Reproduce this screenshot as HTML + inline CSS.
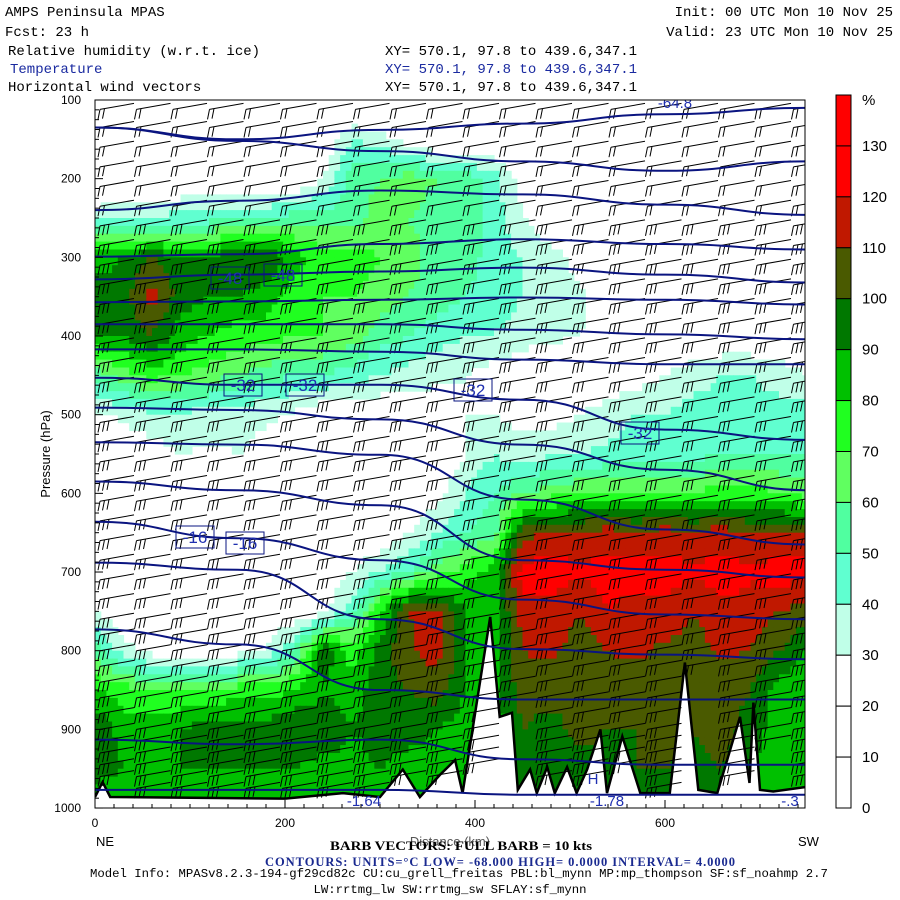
<!DOCTYPE html>
<html><head><meta charset="utf-8">
<style>
html,body{margin:0;padding:0;background:#fff;}
svg{display:block;}
.mono{font-family:"Liberation Mono",monospace;}
.sans{font-family:"Liberation Sans",sans-serif;}
.serif{font-family:"Liberation Serif",serif;}
</style></head>
<body>
<svg id="chart" width="900" height="900" viewBox="0 0 900 900" xmlns="http://www.w3.org/2000/svg">
  <defs><clipPath id="plotclip"><rect x="95" y="100" width="710" height="708"/></clipPath></defs>
  <g class="mono" font-size="14" fill="#000">
    <text x="5" y="16">AMPS Peninsula MPAS</text>
    <text x="5" y="36">Fcst:   23 h</text>
    <text x="893" y="16" text-anchor="end">Init: 00 UTC Mon 10 Nov 25</text>
    <text x="893" y="36" text-anchor="end">Valid: 23 UTC Mon 10 Nov 25</text>
    <text x="8" y="55">Relative humidity (w.r.t. ice)</text>
    <text x="385" y="55">XY= 570.1, 97.8 to 439.6,347.1</text>
    <text x="10" y="73" fill="#1a2aa0">Temperature</text>
    <text x="385" y="73" fill="#1a2aa0">XY= 570.1, 97.8 to 439.6,347.1</text>
    <text x="8" y="91">Horizontal wind vectors</text>
    <text x="385" y="91">XY= 570.1, 97.8 to 439.6,347.1</text>
  </g>
  <g id="plot" clip-path="url(#plotclip)">
    <g id="rh"></g>
    <g id="terrain"></g>
    <g id="barbs"></g>
    <g id="isotherms"></g>
    <g id="clabels"></g>
  </g>
  <rect x="95" y="100" width="710" height="708" fill="none" stroke="#000" stroke-width="1"/>
  <g id="axes"></g>
  <g id="cbar"></g>
  <text transform="translate(50,454) rotate(-90)" text-anchor="middle" class="sans" font-size="13">Pressure (hPa)</text>
  <text x="96" y="846" class="sans" font-size="13">NE</text>
  <text x="798" y="846" class="sans" font-size="13">SW</text>
  <text x="450" y="846" text-anchor="middle" class="sans" font-size="13" fill="#555">Distance (km)</text>
  <text x="330" y="850" textLength="262" lengthAdjust="spacingAndGlyphs" class="serif" font-size="13" font-weight="bold">BARB VECTORS:  FULL BARB = 10 kts</text>
  <text x="265" y="866" textLength="470" lengthAdjust="spacing" class="serif" font-size="12.5" font-weight="bold" fill="#1a2a90">CONTOURS:  UNITS=°C  LOW= -68.000      HIGH=  0.0000      INTERVAL=   4.0000</text>
  <text x="90" y="877" class="mono" font-size="12.3">Model Info: MPASv8.2.3-194-gf29cd82c CU:cu_grell_freitas PBL:bl_mynn MP:mp_thompson SF:sf_noahmp 2.7</text>
  <text x="450" y="893" text-anchor="middle" class="mono" font-size="12.3">LW:rrtmg_lw SW:rrtmg_sw SFLAY:sf_mynn</text>
</svg>
<script>
const distKm = [0,30,60,90,120,150,180,210,240,270,300,330,360,390,420,450,480,510,540,570,600,630,660,690,720,750];
const presLev = [100,150,200,250,300,350,400,450,500,550,600,650,700,750,800,850,900,950,1000];
const rhRow100 = [10,10,10,10,10,10,10,10,10,10,10,10,10,10,10,10,10,10,10,10,10,10,10,10,10,10];
const rhRow150 = [15,15,15,15,15,15,15,15,20,40,35,25,15,15,15,15,15,15,15,15,15,15,15,15,15,15];
const rhRow200 = [15,15,15,15,15,15,15,15,30,55,60,65,60,55,45,25,15,15,15,15,15,15,15,15,15,15];
const rhRow250 = [35,40,40,45,45,50,50,55,55,55,65,60,55,55,45,30,20,20,20,20,20,20,20,20,20,20];
const rhRow300 = [85,90,100,90,90,100,100,85,75,75,70,65,55,55,45,40,35,25,20,20,20,20,20,20,20,20];
const rhRow350 = [95,95,115,95,90,90,85,75,70,70,65,60,55,50,45,40,35,32,25,20,20,20,20,20,20,20];
const rhRow400 = [90,90,100,85,80,75,75,70,70,65,55,50,45,40,40,35,32,30,25,20,20,20,20,20,20,20];
const rhRow450 = [55,65,75,70,65,60,55,50,50,45,40,35,32,30,25,20,20,20,20,25,30,35,40,40,35,30];
const rhRow500 = [28,32,38,38,35,35,32,28,20,20,20,20,25,30,30,25,25,30,35,40,40,45,45,45,45,45];
const rhRow550 = [15,20,25,30,28,30,25,20,20,20,20,20,20,30,40,35,38,40,42,45,45,45,50,50,50,50];
const rhRow600 = [15,15,15,15,20,15,15,15,15,15,15,20,25,40,50,60,65,70,70,70,70,70,75,75,70,65];
const rhRow650 = [15,15,15,15,15,15,15,15,15,20,20,30,40,50,55,105,112,112,115,112,115,112,115,110,112,110];
const rhRow700 = [20,20,20,20,20,20,20,20,20,30,40,50,65,75,85,125,125,122,125,125,125,122,125,122,125,125];
const rhRow750 = [30,20,20,20,20,20,20,20,25,45,80,110,115,90,85,115,118,110,120,115,118,110,118,115,110,105];
const rhRow800 = [55,35,25,20,20,25,30,50,100,75,95,108,115,90,85,110,112,105,110,112,108,105,112,110,100,90];
const rhRow850 = [80,75,70,70,72,75,75,80,88,85,95,100,105,90,85,105,105,100,105,105,105,105,105,100,85,80];
const rhRow900 = [100,85,85,90,95,95,95,100,100,90,95,95,90,85,85,100,95,105,100,100,105,100,105,95,85,80];
const rhRow950 = [95,90,85,90,90,90,90,90,85,85,90,85,85,80,85,95,95,95,95,100,100,95,100,90,85,85];
const rhRow1000 = [80,80,80,80,80,80,80,80,80,80,80,80,80,80,85,90,90,90,90,90,90,90,90,90,90,90];
const rhGrid = [rhRow100,rhRow150,rhRow200,rhRow250,rhRow300,rhRow350,rhRow400,rhRow450,rhRow500,rhRow550,rhRow600,rhRow650,rhRow700,rhRow750,rhRow800,rhRow850,rhRow900,rhRow950,rhRow1000];

const terrainKm = [0,8,16,200,261,300,324,342,363,379,387,416,426,439,445,458,465,476,484,497,507,518,532,539,555,574,605,621,635,655,679,689,693,700,714,750];
const terrainP = [986,967,986,988,981,986,951,986,958,939,981,757,884,879,977,951,981,948,981,948,981,951,900,981,909,981,981,815,977,981,884,968,866,977,979,973];

const isoTemps = [-64,-60,-56,-52,-48,-44,-40,-36,-32,-28,-24,-20,-16,-12,-8,-4,0];
const isoKm = [0,150,300,450,600,750];
const isoP_m64 = [135,150,138,130,118,110];
const isoP_m60 = [135,152,165,178,190,178];
const isoP_m56 = [240,228,215,220,233,246];
const isoP_m52 = [299,296,283,277,283,290];
const isoP_m48 = [328,322,318,313,322,332];
const isoP_m44 = [357,356,354,351,354,360];
const isoP_m40 = [385,385,385,392,398,404];
const isoP_m36 = [417,417,420,430,436,436];
const isoP_m32 = [453,462,462,481,519,532];
const isoP_m28 = [491,494,506,538,570,596];
const isoP_m24 = [535,538,551,608,646,665];
const isoP_m20 = [585,596,615,685,697,707];
const isoP_m16 = [636,657,685,735,754,760];
const isoP_m12 = [688,697,760,798,805,811];
const isoP_m8 = [773,792,850,862,862,862];
const isoP_m4 = [913,919,913,938,945,945];
const isoP_0 = [977,977,977,983,983,983];
const isoP = [isoP_m64,isoP_m60,isoP_m56,isoP_m52,isoP_m48,isoP_m44,isoP_m40,isoP_m36,isoP_m32,isoP_m28,isoP_m24,isoP_m20,isoP_m16,isoP_m12,isoP_m8,isoP_m4,isoP_0];

const barbLevels = [112,135,160,185,210,235,260,285,310,335,360,385,410,435,460,485,510,535,560,585,610,635,660,685,710,735,760,780,800,820,840,860,880,900,915,930,945,960,975];
const barbTicks = [2,2,2,2,2,2,3,3,3,3,3,3,3,3,3,3,3,3,3,3,3,3,3,3,3,3,3,3,3,3,3,3,3,3,3,3,3,3,3];

const yTicks = [100,200,300,400,500,600,700,800,900,1000];
const xTicks = [0,200,400,600];
const cbarLabels = ['%','130','120','110','100','90','80','70','60','50','40','30','20','10','0'];
const cbarColors = ['#ff0000','#ff0000','#c01800','#4a5a00','#007800','#00c000','#20ff20','#60ff60','#50ffa0','#60ffd0','#c0ffe8','#ffffff','#ffffff','#ffffff'];

const NS='http://www.w3.org/2000/svg';
const X = km => 95 + km*0.95;
const Y = p => 100 + (p-100)*0.7867;
function mk(tag, attrs, parent){const e=document.createElementNS(NS,tag);for(const k in attrs)e.setAttribute(k,attrs[k]);parent.appendChild(e);return e;}
function rhColor(v){
  if(v>=120) return '#ff0000';
  if(v>=110) return '#c01800';
  if(v>=100) return '#4a5a00';
  if(v>=90) return '#007800';
  if(v>=80) return '#00c000';
  if(v>=70) return '#20ff20';
  if(v>=60) return '#60ff60';
  if(v>=50) return '#50ffa0';
  if(v>=40) return '#60ffd0';
  if(v>=30) return '#c0ffe8';
  return '#ffffff';
}
const rhG=document.getElementById('rh');
const SUB=5;
for(let j=0;j<presLev.length-1;j++){
  for(let i=0;i<distKm.length-1;i++){
    const a=rhGrid[j][i],b=rhGrid[j][i+1],c=rhGrid[j+1][i],d=rhGrid[j+1][i+1];
    for(let sj=0;sj<SUB;sj++){
      for(let si=0;si<SUB;si++){
        const u=(si+0.5)/SUB,v=(sj+0.5)/SUB;
        const val=a*(1-u)*(1-v)+b*u*(1-v)+c*(1-u)*v+d*u*v;
        const col=rhColor(val);
        if(col==='#ffffff') continue;
        const k0=distKm[i]+(distKm[i+1]-distKm[i])*si/SUB, k1=distKm[i]+(distKm[i+1]-distKm[i])*(si+1)/SUB;
        const p0=presLev[j]+(presLev[j+1]-presLev[j])*sj/SUB, p1=presLev[j]+(presLev[j+1]-presLev[j])*(sj+1)/SUB;
        const r=mk('rect',{x:X(k0).toFixed(1),y:Y(p0).toFixed(1),width:(X(k1)-X(k0)+0.6).toFixed(1),height:(Y(p1)-Y(p0)+0.6).toFixed(1),fill:col},rhG);
        
        
      }
    }
  }
}
function surfP(km){
  for(let i=0;i<terrainKm.length-1;i++){
    if(km>=terrainKm[i]&&km<=terrainKm[i+1]){const t=(km-terrainKm[i])/(terrainKm[i+1]-terrainKm[i]);return terrainP[i]+t*(terrainP[i+1]-terrainP[i]);}
  }
  return terrainP[terrainP.length-1];
}
const tG=document.getElementById('terrain');
let tp='M'+X(terrainKm[0])+','+Y(terrainP[0]);
for(let i=1;i<terrainKm.length;i++) tp+=' L'+X(terrainKm[i]).toFixed(1)+','+Y(terrainP[i]).toFixed(1);
const tpFill=tp+' L'+X(760)+','+Y(terrainP[terrainP.length-1])+' L'+X(760)+',810 L95,810 Z';
const tf=mk('path',{d:tpFill,fill:'#ffffff'},tG);


const tl=mk('path',{d:tp,fill:'none',stroke:'#000','stroke-width':2.5},tG);


const bG=document.getElementById('barbs');
for(let r=0;r<barbLevels.length;r++){
  const p=barbLevels[r];
  for(let bx=100;bx<800;bx+=36.5){
    const km=(bx-95)/0.95;
    if(p>surfP(km)-5) continue;
    const y0=Y(p);
    let d='M'+bx.toFixed(1)+','+y0.toFixed(1)+' l34,-6';
    for(let t=0;t<barbTicks[r];t++){
      const sx=bx+t*4.5, sy=y0-t*0.8;
      d+=' M'+sx.toFixed(1)+','+sy.toFixed(1)+' l-2,10';
    }
    const b=mk('path',{d:d,fill:'none',stroke:'#000','stroke-width':1},bG);
    
    
  }
}
const iG=document.getElementById('isotherms');
for(let n=0;n<isoTemps.length;n++){
  let d='';
  for(let i=0;i<isoKm.length;i++){
    const px=X(isoKm[i]),py=Y(isoP[n][i]);
    if(i===0){d='M'+px.toFixed(1)+','+py.toFixed(1);}
    else{
      const ppx=X(isoKm[i-1]),ppy=Y(isoP[n][i-1]);
      const mx=(ppx+px)/2;
      d+=' C'+mx.toFixed(1)+','+ppy.toFixed(1)+' '+mx.toFixed(1)+','+py.toFixed(1)+' '+px.toFixed(1)+','+py.toFixed(1);
    }
  }
  const l=mk('path',{d:d,fill:'none',stroke:'#0a1480','stroke-width':2},iG);
  
  
}
const labels=[['-48',230,278],['-48',283,275],['-32',243,385],['-32',305,385],['-32',473,390],['-32',640,433],['-16',195,537],['-16',245,543]];
const lG=document.getElementById('clabels');
labels.forEach(L=>{
  const rc=mk('rect',{x:L[1]-19,y:L[2]-11,width:38,height:22,fill:'none',stroke:'#0a1480','stroke-width':1},lG);
  
  
  const tx=mk('text',{x:L[1],y:L[2]+6,'text-anchor':'middle','font-size':17,fill:'#2030b0','font-family':'Liberation Sans, sans-serif'},lG);
  tx.textContent=L[0];
  
  
});
[['H',593,784],['-1.78',607,806],['-.3',790,806],['-1.64',364,806],['-64.8',675,108]].forEach(L=>{
  const tx=mk('text',{x:L[1],y:L[2],'text-anchor':'middle','font-size':15,fill:'#2030b0','font-family':'Liberation Sans, sans-serif'},lG);
  tx.textContent=L[0];
  
  
});
const aG=document.getElementById('axes');
yTicks.forEach(p=>{
  const t=mk('text',{x:81,y:Y(p)+4,'text-anchor':'end','font-size':12,'font-family':'Liberation Sans, sans-serif'},aG);
  t.textContent=p;
  
  
});
for(let p=100;p<=1000;p+=12.5){
  const tk=mk('line',{x1:95,x2:(p%100===0?103:99),y1:Y(p),y2:Y(p),stroke:'#000','stroke-width':1},aG);
  
  
}
xTicks.forEach(k=>{
  const t=mk('text',{x:X(k),y:827,'text-anchor':'middle','font-size':12,'font-family':'Liberation Sans, sans-serif'},aG);
  t.textContent=k;
  
  
});
for(let k=0;k<=740;k+=20){
  const tk=mk('line',{x1:X(k),x2:X(k),y1:808,y2:(k%200===0?800:804),stroke:'#000','stroke-width':1},aG);
  
  
}
const cG=document.getElementById('cbar');
const cbTop=95,cbBot=808,bh=(cbBot-cbTop)/cbarColors.length;
cbarColors.forEach((c,i)=>{
  const r=mk('rect',{x:836,y:cbTop+i*bh,width:15,height:bh,fill:c,stroke:'#000','stroke-width':1},cG);
  
  
});
cbarLabels.forEach((s,i)=>{
  const t=mk('text',{x:862,y:cbTop+i*bh+(i===0?10:5),'font-size':15,'font-family':'Liberation Sans, sans-serif'},cG);
  t.textContent=s;
  
  
});
</script>
</body></html>
